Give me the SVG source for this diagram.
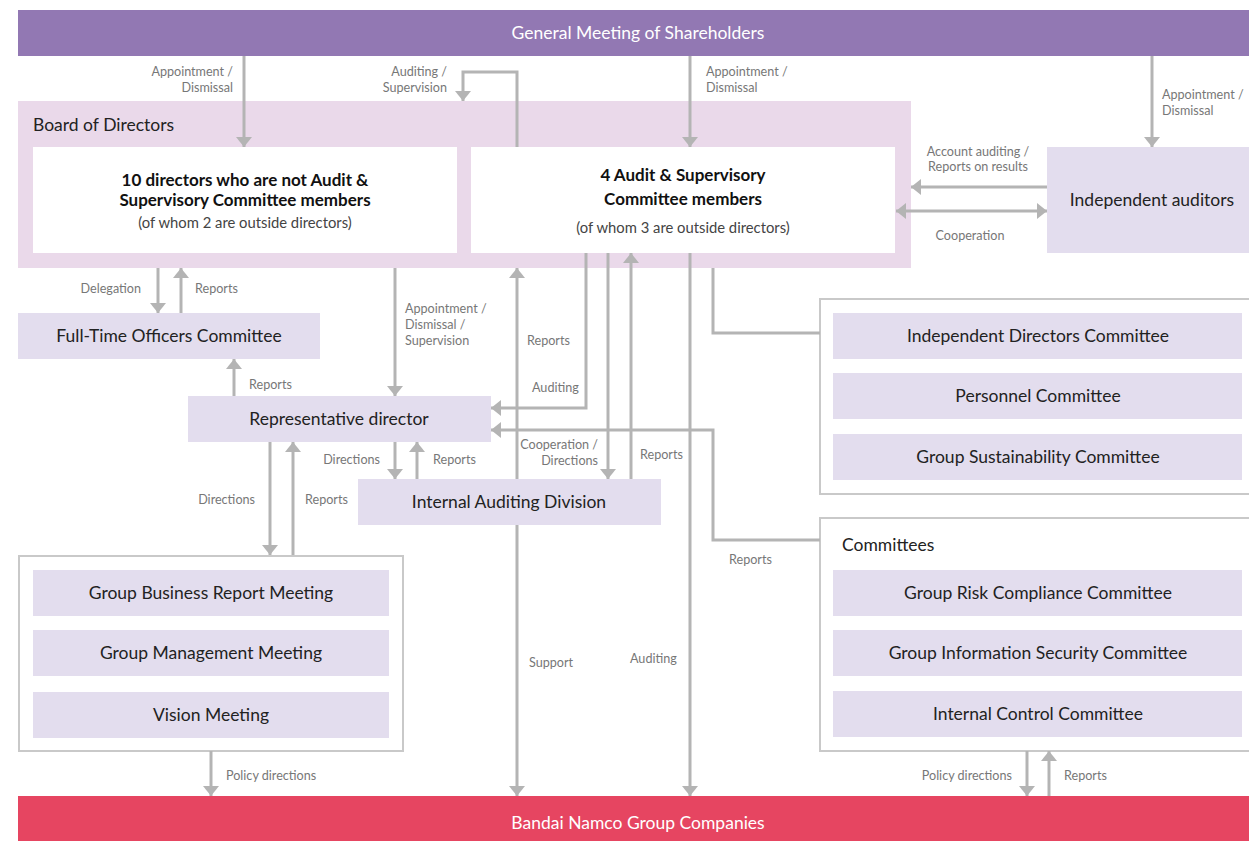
<svg xmlns="http://www.w3.org/2000/svg" width="1249" height="841" viewBox="0 0 1249 841">
<defs>
<marker id="ah" viewBox="0 0 10 16" refX="10" refY="8" markerWidth="10" markerHeight="16" markerUnits="userSpaceOnUse" orient="auto-start-reverse">
<path d="M0,0 L10,8 L0,16 z" fill="#b4b4b4"/>
</marker>
<style>
text{font-family:Lato,"Noto Sans",sans-serif}
.n{font-size:17.5px;fill:#222;text-anchor:middle}
.w{font-size:17.5px;fill:#fff;text-anchor:middle}
.b{font-size:17px;font-weight:bold;fill:#111;text-anchor:middle}
.s{font-size:14.8px;fill:#444;text-anchor:middle}
.l{font-size:12.6px;fill:#777}
.e{text-anchor:end}
.m{text-anchor:middle}
.box{fill:#e3ddee}
.grp{fill:#fff;stroke:#c9c9c9;stroke-width:2}
.c path{fill:none;stroke:#b4b4b4;stroke-width:3}
.a{marker-end:url(#ah)}
</style>
</defs>
<rect width="1249" height="841" fill="#fff"/>
<g id="shareholders"><rect x="18" y="10" width="1231" height="46" fill="#9278b3"/><text class="w" x="638" y="39">General Meeting of Shareholders</text></g>
<g id="board"><rect x="18" y="101" width="893" height="167" fill="#ead9ea"/><text x="33" y="131" style="font-size:17.5px;fill:#222">Board of Directors</text></g>
<g id="directors"><rect x="33" y="147" width="424" height="106" fill="#fff"/><text class="b" x="245" y="186">10 directors who are not Audit &amp;</text><text class="b" x="245" y="206">Supervisory Committee members</text><text class="s" x="245" y="228">(of whom 2 are outside directors)</text></g>
<g id="audit-committee"><rect x="471" y="147" width="424" height="106" fill="#fff"/><text class="b" x="683" y="181">4 Audit &amp; Supervisory</text><text class="b" x="683" y="205">Committee members</text><text class="s" x="683" y="233">(of whom 3 are outside directors)</text></g>
<g id="auditors"><rect class="box" x="1047" y="147" width="202" height="106"/><text class="n" x="1152" y="206">Independent auditors</text></g>
<g id="fulltime"><rect class="box" x="18" y="313" width="302" height="46"/><text class="n" x="169" y="342">Full-Time Officers Committee</text></g>
<g id="rep"><rect class="box" x="188" y="396" width="303" height="46"/><text class="n" x="339" y="425">Representative director</text></g>
<g id="iad"><rect class="box" x="358" y="479" width="303" height="46"/><text class="n" x="509" y="508">Internal Auditing Division</text></g>
<g id="meetings"><rect class="grp" x="19" y="556" width="384" height="195"/>
<rect class="box" x="33" y="570" width="356" height="46"/><text class="n" x="211" y="599">Group Business Report Meeting</text>
<rect class="box" x="33" y="630" width="356" height="46"/><text class="n" x="211" y="659">Group Management Meeting</text>
<rect class="box" x="33" y="692" width="356" height="46"/><text class="n" x="211" y="721">Vision Meeting</text></g>
<g id="board-committees"><rect class="grp" x="820" y="299" width="440" height="195"/>
<rect class="box" x="833" y="313" width="409" height="46"/><text class="n" x="1038" y="342">Independent Directors Committee</text>
<rect class="box" x="833" y="373" width="409" height="46"/><text class="n" x="1038" y="402">Personnel Committee</text>
<rect class="box" x="833" y="434" width="409" height="46"/><text class="n" x="1038" y="463">Group Sustainability Committee</text></g>
<g id="committees"><rect class="grp" x="820" y="518" width="440" height="233"/>
<text x="842" y="551" style="font-size:17.5px;fill:#222">Committees</text>
<rect class="box" x="833" y="570" width="409" height="46"/><text class="n" x="1038" y="599">Group Risk Compliance Committee</text>
<rect class="box" x="833" y="630" width="409" height="46"/><text class="n" x="1038" y="659">Group Information Security Committee</text>
<rect class="box" x="833" y="691" width="409" height="46"/><text class="n" x="1038" y="720">Internal Control Committee</text></g>
<g id="companies"><rect x="18" y="796" width="1231" height="45" fill="#e64561"/><text class="w" x="638" y="829">Bandai Namco Group Companies</text></g>
<g id="connectors" class="c">
<path class="a" d="M244,56 V147"/>
<path class="a" d="M517,147 V72 H463 V101"/>
<path class="a" d="M690,56 V147"/>
<path class="a" d="M1152,56 V147"/>
<path class="a" d="M1047,187 H911"/>
<path class="a" d="M896,211 H1047" style="marker-start:url(#ah)"/>
<path class="a" d="M158,268 V313"/>
<path class="a" d="M181,313 V268"/>
<path class="a" d="M234,396 V359"/>
<path class="a" d="M395,268 V396"/>
<path class="a" d="M517,479 V268"/>
<path class="a" d="M586,253 V408 H491"/>
<path class="a" d="M608,253 V479"/>
<path class="a" d="M631,479 V253"/>
<path class="a" d="M690,253 V796"/>
<path d="M713,268 V333 H820"/>
<path class="a" d="M820,540 H713 V430 H491"/>
<path class="a" d="M395,442 V479"/>
<path class="a" d="M417,479 V442"/>
<path class="a" d="M270,442 V555"/>
<path class="a" d="M293,555 V442"/>
<path class="a" d="M211,751 V796"/>
<path class="a" d="M517,525 V796"/>
<path class="a" d="M1027,751 V796"/>
<path class="a" d="M1049,796 V751"/>
</g>
<g id="labels">
<text class="l e" x="233" y="76">Appointment /</text><text class="l e" x="233" y="92">Dismissal</text>
<text class="l e" x="447" y="76">Auditing /</text><text class="l e" x="447" y="92">Supervision</text>
<text class="l" x="706" y="76">Appointment /</text><text class="l" x="706" y="92">Dismissal</text>
<text class="l" x="1162" y="99">Appointment /</text><text class="l" x="1162" y="115">Dismissal</text>
<text class="l m" x="978" y="156">Account auditing /</text><text class="l m" x="978" y="171">Reports on results</text>
<text class="l m" x="970" y="240">Cooperation</text>
<text class="l e" x="141" y="293">Delegation</text><text class="l" x="195" y="293">Reports</text>
<text class="l" x="249" y="389">Reports</text>
<text class="l" x="405" y="313">Appointment /</text><text class="l" x="405" y="329">Dismissal /</text><text class="l" x="405" y="345">Supervision</text>
<text class="l" x="527" y="345">Reports</text>
<text class="l" x="532" y="392">Auditing</text>
<text class="l e" x="598" y="449">Cooperation /</text><text class="l e" x="598" y="465">Directions</text>
<text class="l" x="640" y="459">Reports</text>
<text class="l e" x="380" y="464">Directions</text><text class="l" x="433" y="464">Reports</text>
<text class="l e" x="255" y="504">Directions</text><text class="l" x="305" y="504">Reports</text>
<text class="l" x="729" y="564">Reports</text>
<text class="l" x="529" y="667">Support</text>
<text class="l" x="630" y="663">Auditing</text>
<text class="l" x="226" y="780">Policy directions</text>
<text class="l e" x="1012" y="780">Policy directions</text><text class="l" x="1064" y="780">Reports</text>
</g>
</svg>
